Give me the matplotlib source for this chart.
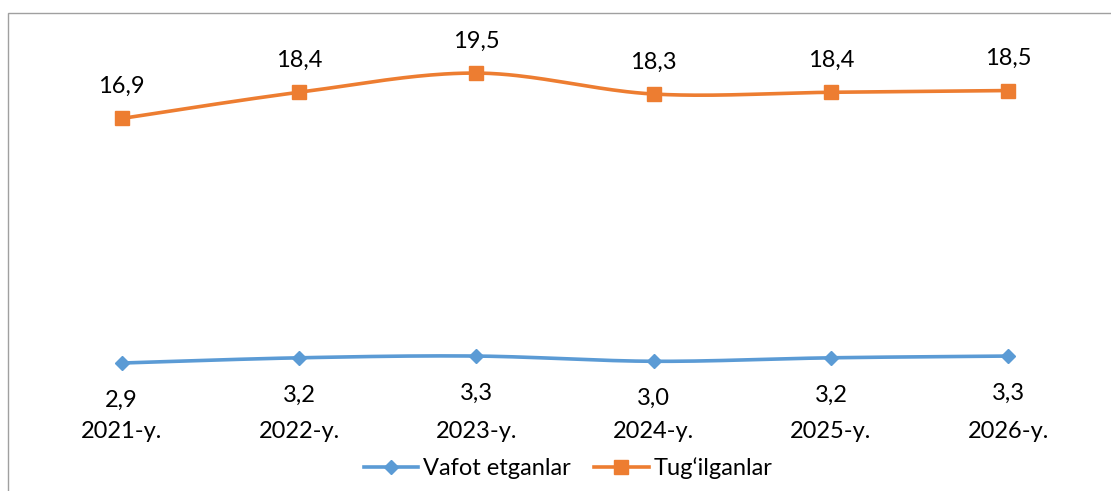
import numpy as np
import matplotlib.pyplot as plt
from matplotlib.patches import Rectangle

years = ['2021-y.', '2022-y.', '2023-y.', '2024-y.', '2025-y.', '2026-y.']
vafot = [2.9, 3.2, 3.3, 3.0, 3.2, 3.3]
tug = [16.9, 18.4, 19.5, 18.3, 18.4, 18.5]

BLUE = '#5B9BD5'
ORANGE = '#ED7D31'
FONT = ['Lato', 'DejaVu Sans']
plt.rcParams['font.family'] = FONT
FS = 17

W, H = 1111, 491
fig = plt.figure(figsize=(W / 100, H / 100), dpi=100)

# plot area in pixel coords
left_px, right_px = 33, 1097
bottom_px, top_px = 413.7, 29.4
ax = fig.add_axes([left_px / W, 1 - bottom_px / H,
                   (right_px - left_px) / W, (bottom_px - top_px) / H])


def smooth(xs, ys, n=40):
    xs = np.asarray(xs, float)
    ys = np.asarray(ys, float)
    P = np.column_stack([xs, ys])
    Pext = np.vstack([P[0], P, P[-1]])
    out = []
    for i in range(len(P) - 1):
        p0, p1, p2, p3 = Pext[i], Pext[i + 1], Pext[i + 2], Pext[i + 3]
        c1 = p1 + (p2 - p0) / 6
        c2 = p2 - (p3 - p1) / 6
        t = np.linspace(0, 1, n)[:, None]
        seg = ((1 - t) ** 3) * p1 + 3 * ((1 - t) ** 2) * t * c1 + 3 * (1 - t) * t ** 2 * c2 + t ** 3 * p2
        out.append(seg if i == 0 else seg[1:])
    s = np.vstack(out)
    return s[:, 0], s[:, 1]


x = np.arange(len(years))

for vals, color, marker, ms, lab in [
    (vafot, BLUE, 'D', 7.5, 'Vafot etganlar'),
    (tug, ORANGE, 's', 9.5, 'Tug\u2018ilganlar'),
]:
    sx, sy = smooth(x, vals)
    ax.plot(sx, sy, color=color, lw=2.6, solid_capstyle='round', zorder=2)
    ax.plot(x, vals, linestyle='none', marker=marker, markersize=ms,
            color=color, zorder=3)
    ax.plot([], [], color=color, lw=2.6, marker=marker, markersize=ms, label=lab)

for xi, v in zip(x, tug):
    ax.annotate(f'{v:.1f}'.replace('.', ','), (xi, v), xytext=(0, 23),
                textcoords='offset points', ha='center', va='center',
                fontsize=FS, color='black')
for xi, v in zip(x, vafot):
    ax.annotate(f'{v:.1f}'.replace('.', ','), (xi, v), xytext=(0, -27),
                textcoords='offset points', ha='center', va='center',
                fontsize=FS, color='black')

ax.set_xlim(-0.5, len(years) - 0.5)
ax.set_ylim(0, 22)
ax.set_xticks(x)
ax.set_xticklabels(years, fontsize=FS)
ax.tick_params(axis='x', length=0, pad=5.5)
ax.set_yticks([])
for s in ax.spines.values():
    s.set_visible(False)
ax.patch.set_alpha(0)

fig.legend(loc='center', bbox_to_anchor=(568 / W, 1 - 468 / H), ncol=2,
           frameon=False, fontsize=FS, handlelength=2.3, handletextpad=0.2,
           columnspacing=1.0)

fig.patches.append(Rectangle((7.5 / W, -0.05), 1.2, 1 - 12.5 / H + 0.05,
                             transform=fig.transFigure, fill=False,
                             edgecolor='#A0A0A0', lw=1.0))

fig.savefig('out.png', dpi=100, facecolor='white')
